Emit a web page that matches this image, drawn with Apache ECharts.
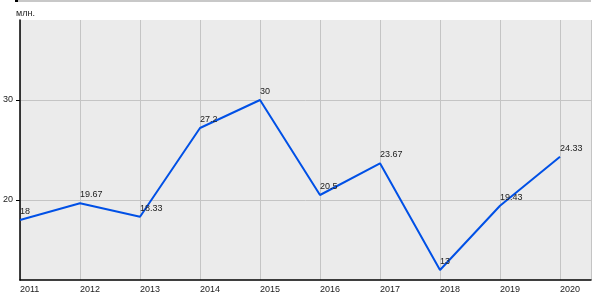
<!DOCTYPE html>
<html><head><meta charset="utf-8">
<script src="https://cdn.jsdelivr.net/npm/echarts@6/dist/echarts.min.js"></script>
<style>html,body{margin:0;padding:0;background:#fff}#c{width:600px;height:300px}</style>
</head><body><div id="c"></div>
<script>
const years = [2011, 2012, 2013, 2014, 2015, 2016, 2017, 2018, 2019, 2020];
const values = [18, 19.67, 18.33, 27.2, 30, 20.5, 23.67, 13, 19.43, 24.33];
const yTicks = [20, 30];
const yUnit = 'млн.';

const chart = echarts.init(document.getElementById('c'), null, {renderer: 'canvas'});
const font = 'Liberation Sans, Arial, sans-serif';
chart.setOption({
  animation: false,
  backgroundColor: '#fff',
  graphic: [
    {type: 'rect', shape: {x: 15, y: 0, width: 3, height: 2}, style: {fill: '#000'}},
    {type: 'rect', shape: {x: 18, y: 0, width: 573, height: 2}, style: {fill: '#C8C8C8'}},
    {type: 'text', left: 16, top: 9, style: {text: yUnit, fontSize: 9, fontFamily: font, fill: '#222'}}
  ],
  grid: {left: 20, right: 9, top: 20, bottom: 20, show: true, backgroundColor: '#EBEBEB', borderWidth: 0, containLabel: false},
  xAxis: {
    type: 'value', min: 2011, max: 2011 + 571 / 60, interval: 1,
    axisLine: {show: true, onZero: false, lineStyle: {color: '#000', width: 1.5}},
    axisTick: {show: false},
    splitLine: {show: true, lineStyle: {color: '#C4C4C4', width: 1}},
    axisLabel: {show: true, showMaxLabel: false, align: 'left', margin: 5, fontSize: 9, fontFamily: font, color: '#222',
      formatter: v => String(Math.round(v))}
  },
  yAxis: {
    type: 'value', min: 12, max: 38,
    axisLine: {show: true, onZero: false, lineStyle: {color: '#000', width: 1.5}},
    axisTick: {show: true, length: 4, customValues: yTicks, lineStyle: {color: '#000'}},
    splitLine: {show: true, lineStyle: {color: '#C4C4C4', width: 1}},
    axisLabel: {show: true, customValues: yTicks, margin: 7, fontSize: 9, fontFamily: font, color: '#222', padding: [0, 0, 6, 0]}
  },
  series: [{
    type: 'line',
    data: years.map((y, i) => [y, values[i]]),
    symbol: 'circle', symbolSize: 0, showSymbol: true,
    lineStyle: {color: '#0050E6', width: 2},
    itemStyle: {color: '#0050E6'},
    label: {show: true, position: [0, -4], align: 'left', verticalAlign: 'bottom', fontSize: 9, fontFamily: font, color: '#222',
      formatter: p => String(p.value[1])}
  }]
});
</script></body></html>
